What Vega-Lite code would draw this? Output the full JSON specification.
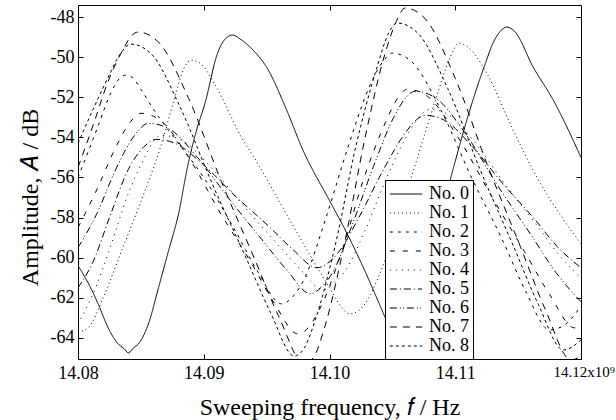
{
"$schema":"https://vega.github.io/schema/vega-lite/v6.json",
"width":503,"height":354,
"autosize":{"type":"none"},
"padding":{"left":78,"top":5,"right":35,"bottom":61},
"background":"white",
"config":{
 "font":"Liberation Serif",
 "view":{"stroke":"black","strokeWidth":1},
 "axis":{"domainColor":"black","tickColor":"black","labelColor":"black","titleColor":"black","labelFont":"Liberation Serif","titleFont":"Liberation Serif","labelFontSize":18,"titleFontSize":24,"titleFontWeight":"normal","grid":false,"tickSize":-5,"labelPadding":8},
 "legend":{"labelFont":"Liberation Serif"}
},
"datasets":{"curves":[
{"s":"No. 0","f":14.0800,"a":-60.4},{"s":"No. 0","f":14.0808,"a":-61.25},{"s":"No. 0","f":14.0816,"a":-62.3},{"s":"No. 0","f":14.0824,"a":-63.5},{"s":"No. 0","f":14.0832,"a":-64.3},{"s":"No. 0","f":14.0837,"a":-64.55},{"s":"No. 0","f":14.0840,"a":-64.75},{"s":"No. 0","f":14.0844,"a":-64.5},{"s":"No. 0","f":14.0848,"a":-64.3},{"s":"No. 0","f":14.0856,"a":-63.3},{"s":"No. 0","f":14.0864,"a":-61.5},{"s":"No. 0","f":14.0872,"a":-59.65},{"s":"No. 0","f":14.0880,"a":-57.8},{"s":"No. 0","f":14.0887,"a":-55.5},{"s":"No. 0","f":14.0894,"a":-53.7},{"s":"No. 0","f":14.0901,"a":-52.3},{"s":"No. 0","f":14.0911,"a":-49.8},{"s":"No. 0","f":14.0917,"a":-49.1},{"s":"No. 0","f":14.0923,"a":-48.9},{"s":"No. 0","f":14.0929,"a":-49.1},{"s":"No. 0","f":14.0940,"a":-49.7},{"s":"No. 0","f":14.0950,"a":-50.5},{"s":"No. 0","f":14.0965,"a":-52.5},{"s":"No. 0","f":14.0979,"a":-54.65},{"s":"No. 0","f":14.1000,"a":-57.15},{"s":"No. 0","f":14.1014,"a":-58.8},{"s":"No. 0","f":14.1027,"a":-60.5},{"s":"No. 0","f":14.1042,"a":-62.65},{"s":"No. 0","f":14.1050,"a":-63.8},{"s":"No. 0","f":14.1058,"a":-64.5},{"s":"No. 0","f":14.1066,"a":-63.5},{"s":"No. 0","f":14.1076,"a":-61.0},{"s":"No. 0","f":14.1087,"a":-58.3},{"s":"No. 0","f":14.1098,"a":-55.65},{"s":"No. 0","f":14.1114,"a":-52.15},{"s":"No. 0","f":14.1124,"a":-50.3},{"s":"No. 0","f":14.1130,"a":-49.3},{"s":"No. 0","f":14.1136,"a":-48.7},{"s":"No. 0","f":14.1141,"a":-48.5},{"s":"No. 0","f":14.1147,"a":-48.7},{"s":"No. 0","f":14.1162,"a":-50.5},{"s":"No. 0","f":14.1178,"a":-52.15},{"s":"No. 0","f":14.1200,"a":-55.0},
{"s":"No. 1","f":14.0800,"a":-63.7},{"s":"No. 1","f":14.0808,"a":-63.5},{"s":"No. 1","f":14.0820,"a":-62.0},{"s":"No. 1","f":14.0835,"a":-59.6},{"s":"No. 1","f":14.0850,"a":-57.2},{"s":"No. 1","f":14.0865,"a":-54.6},{"s":"No. 1","f":14.0877,"a":-52.0},{"s":"No. 1","f":14.0884,"a":-50.6},{"s":"No. 1","f":14.0890,"a":-50.15},{"s":"No. 1","f":14.0897,"a":-50.3},{"s":"No. 1","f":14.0910,"a":-51.5},{"s":"No. 1","f":14.0930,"a":-54.0},{"s":"No. 1","f":14.0942,"a":-55.2},{"s":"No. 1","f":14.0961,"a":-57.3},{"s":"No. 1","f":14.0982,"a":-59.6},{"s":"No. 1","f":14.1000,"a":-61.5},{"s":"No. 1","f":14.1010,"a":-62.5},{"s":"No. 1","f":14.1016,"a":-62.8},{"s":"No. 1","f":14.1024,"a":-62.6},{"s":"No. 1","f":14.1040,"a":-60.8},{"s":"No. 1","f":14.1055,"a":-58.0},{"s":"No. 1","f":14.1070,"a":-55.0},{"s":"No. 1","f":14.1085,"a":-52.0},{"s":"No. 1","f":14.1096,"a":-50.0},{"s":"No. 1","f":14.1103,"a":-49.3},{"s":"No. 1","f":14.1110,"a":-49.5},{"s":"No. 1","f":14.1125,"a":-50.8},{"s":"No. 1","f":14.1145,"a":-53.5},{"s":"No. 1","f":14.1165,"a":-56.0},{"s":"No. 1","f":14.1185,"a":-58.0},{"s":"No. 1","f":14.1200,"a":-59.3},
{"s":"No. 2","f":14.0800,"a":-56.0},{"s":"No. 2","f":14.0815,"a":-53.6},{"s":"No. 2","f":14.0826,"a":-51.8},{"s":"No. 2","f":14.0834,"a":-51.0},{"s":"No. 2","f":14.0838,"a":-50.9},{"s":"No. 2","f":14.0843,"a":-51.0},{"s":"No. 2","f":14.0850,"a":-51.6},{"s":"No. 2","f":14.0860,"a":-52.6},{"s":"No. 2","f":14.0875,"a":-53.9},{"s":"No. 2","f":14.0900,"a":-56.0},{"s":"No. 2","f":14.0925,"a":-58.65},{"s":"No. 2","f":14.0943,"a":-60.7},{"s":"No. 2","f":14.0962,"a":-62.3},{"s":"No. 2","f":14.0970,"a":-62.0},{"s":"No. 2","f":14.0980,"a":-61.05},{"s":"No. 2","f":14.0997,"a":-58.05},{"s":"No. 2","f":14.1015,"a":-54.43},{"s":"No. 2","f":14.1032,"a":-51.43},{"s":"No. 2","f":14.1043,"a":-50.18},{"s":"No. 2","f":14.1050,"a":-49.8},{"s":"No. 2","f":14.1065,"a":-50.21},{"s":"No. 2","f":14.1088,"a":-52.56},{"s":"No. 2","f":14.1113,"a":-56.01},{"s":"No. 2","f":14.1138,"a":-59.18},{"s":"No. 2","f":14.1156,"a":-61.67},{"s":"No. 2","f":14.1175,"a":-63.6},{"s":"No. 2","f":14.1188,"a":-63.3},{"s":"No. 2","f":14.1200,"a":-62.4},
{"s":"No. 3","f":14.0800,"a":-58.5},{"s":"No. 3","f":14.0815,"a":-56.6},{"s":"No. 3","f":14.0830,"a":-54.5},{"s":"No. 3","f":14.0842,"a":-53.2},{"s":"No. 3","f":14.0850,"a":-52.8},{"s":"No. 3","f":14.0865,"a":-53.13},{"s":"No. 3","f":14.0888,"a":-55.0},{"s":"No. 3","f":14.0913,"a":-57.75},{"s":"No. 3","f":14.0938,"a":-60.28},{"s":"No. 3","f":14.0956,"a":-62.26},{"s":"No. 3","f":14.0975,"a":-63.8},{"s":"No. 3","f":14.0983,"a":-63.5},{"s":"No. 3","f":14.0992,"a":-62.58},{"s":"No. 3","f":14.1010,"a":-59.65},{"s":"No. 3","f":14.1027,"a":-56.11},{"s":"No. 3","f":14.1045,"a":-53.19},{"s":"No. 3","f":14.1055,"a":-51.97},{"s":"No. 3","f":14.1062,"a":-51.6},{"s":"No. 3","f":14.1078,"a":-51.96},{"s":"No. 3","f":14.1102,"a":-53.98},{"s":"No. 3","f":14.1129,"a":-56.95},{"s":"No. 3","f":14.1155,"a":-59.69},{"s":"No. 3","f":14.1175,"a":-61.83},{"s":"No. 3","f":14.1195,"a":-63.5},{"s":"No. 3","f":14.1200,"a":-63.4},
{"s":"No. 4","f":14.0800,"a":-63.3},{"s":"No. 4","f":14.0812,"a":-61.8},{"s":"No. 4","f":14.0825,"a":-59.6},{"s":"No. 4","f":14.0840,"a":-56.8},{"s":"No. 4","f":14.0853,"a":-55.0},{"s":"No. 4","f":14.0860,"a":-54.2},{"s":"No. 4","f":14.0866,"a":-53.9},{"s":"No. 4","f":14.0882,"a":-54.13},{"s":"No. 4","f":14.0905,"a":-55.44},{"s":"No. 4","f":14.0931,"a":-57.37},{"s":"No. 4","f":14.0956,"a":-59.14},{"s":"No. 4","f":14.0976,"a":-60.52},{"s":"No. 4","f":14.0995,"a":-61.6},{"s":"No. 4","f":14.1003,"a":-61.3},{"s":"No. 4","f":14.1012,"a":-60.7},{"s":"No. 4","f":14.1029,"a":-58.54},{"s":"No. 4","f":14.1046,"a":-55.93},{"s":"No. 4","f":14.1063,"a":-53.77},{"s":"No. 4","f":14.1073,"a":-52.87},{"s":"No. 4","f":14.1080,"a":-52.6},{"s":"No. 4","f":14.1094,"a":-52.85},{"s":"No. 4","f":14.1116,"a":-54.28},{"s":"No. 4","f":14.1140,"a":-56.38},{"s":"No. 4","f":14.1164,"a":-58.31},{"s":"No. 4","f":14.1182,"a":-59.82},{"s":"No. 4","f":14.1200,"a":-61.0},
{"s":"No. 5","f":14.0800,"a":-61.5},{"s":"No. 5","f":14.0812,"a":-60.2},{"s":"No. 5","f":14.0825,"a":-58.0},{"s":"No. 5","f":14.0840,"a":-55.6},{"s":"No. 5","f":14.0852,"a":-54.5},{"s":"No. 5","f":14.0862,"a":-54.1},{"s":"No. 5","f":14.0877,"a":-54.29},{"s":"No. 5","f":14.0900,"a":-55.38},{"s":"No. 5","f":14.0926,"a":-56.98},{"s":"No. 5","f":14.0952,"a":-58.45},{"s":"No. 5","f":14.0971,"a":-59.6},{"s":"No. 5","f":14.0990,"a":-60.5},{"s":"No. 5","f":14.0998,"a":-60.3},{"s":"No. 5","f":14.1007,"a":-59.74},{"s":"No. 5","f":14.1024,"a":-57.92},{"s":"No. 5","f":14.1042,"a":-55.71},{"s":"No. 5","f":14.1059,"a":-53.89},{"s":"No. 5","f":14.1069,"a":-53.13},{"s":"No. 5","f":14.1076,"a":-52.9},{"s":"No. 5","f":14.1091,"a":-53.13},{"s":"No. 5","f":14.1113,"a":-54.42},{"s":"No. 5","f":14.1138,"a":-56.32},{"s":"No. 5","f":14.1163,"a":-58.07},{"s":"No. 5","f":14.1181,"a":-59.44},{"s":"No. 5","f":14.1200,"a":-60.5},
{"s":"No. 6","f":14.0800,"a":-59.5},{"s":"No. 6","f":14.0815,"a":-57.8},{"s":"No. 6","f":14.0830,"a":-55.6},{"s":"No. 6","f":14.0845,"a":-53.9},{"s":"No. 6","f":14.0856,"a":-53.3},{"s":"No. 6","f":14.0872,"a":-53.56},{"s":"No. 6","f":14.0895,"a":-55.0},{"s":"No. 6","f":14.0921,"a":-57.13},{"s":"No. 6","f":14.0946,"a":-59.08},{"s":"No. 6","f":14.0966,"a":-60.61},{"s":"No. 6","f":14.0985,"a":-61.8},{"s":"No. 6","f":14.0993,"a":-61.5},{"s":"No. 6","f":14.1002,"a":-60.79},{"s":"No. 6","f":14.1018,"a":-58.37},{"s":"No. 6","f":14.1035,"a":-55.44},{"s":"No. 6","f":14.1051,"a":-53.01},{"s":"No. 6","f":14.1061,"a":-52.0},{"s":"No. 6","f":14.1068,"a":-51.7},{"s":"No. 6","f":14.1084,"a":-52.02},{"s":"No. 6","f":14.1108,"a":-53.8},{"s":"No. 6","f":14.1134,"a":-56.43},{"s":"No. 6","f":14.1160,"a":-58.84},{"s":"No. 6","f":14.1180,"a":-60.73},{"s":"No. 6","f":14.1200,"a":-62.2},
{"s":"No. 7","f":14.0800,"a":-55.5},{"s":"No. 7","f":14.0812,"a":-53.4},{"s":"No. 7","f":14.0824,"a":-51.2},{"s":"No. 7","f":14.0836,"a":-49.6},{"s":"No. 7","f":14.0843,"a":-48.9},{"s":"No. 7","f":14.0848,"a":-48.75},{"s":"No. 7","f":14.0864,"a":-49.25},{"s":"No. 7","f":14.0888,"a":-52.06},{"s":"No. 7","f":14.0914,"a":-56.2},{"s":"No. 7","f":14.0940,"a":-60.0},{"s":"No. 7","f":14.0960,"a":-62.98},{"s":"No. 7","f":14.0980,"a":-65.3},{"s":"No. 7","f":14.0988,"a":-64.9},{"s":"No. 7","f":14.0996,"a":-63.5},{"s":"No. 7","f":14.1012,"a":-59.26},{"s":"No. 7","f":14.1028,"a":-54.1},{"s":"No. 7","f":14.1044,"a":-49.86},{"s":"No. 7","f":14.1054,"a":-48.1},{"s":"No. 7","f":14.1060,"a":-47.55},{"s":"No. 7","f":14.1076,"a":-48.08},{"s":"No. 7","f":14.1100,"a":-51.06},{"s":"No. 7","f":14.1126,"a":-55.45},{"s":"No. 7","f":14.1152,"a":-59.48},{"s":"No. 7","f":14.1172,"a":-62.64},{"s":"No. 7","f":14.1192,"a":-65.1},{"s":"No. 7","f":14.1200,"a":-64.9},
{"s":"No. 8","f":14.0800,"a":-54.3},{"s":"No. 8","f":14.0812,"a":-52.6},{"s":"No. 8","f":14.0824,"a":-51.0},{"s":"No. 8","f":14.0834,"a":-49.8},{"s":"No. 8","f":14.0842,"a":-49.35},{"s":"No. 8","f":14.0858,"a":-49.82},{"s":"No. 8","f":14.0881,"a":-52.46},{"s":"No. 8","f":14.0907,"a":-56.35},{"s":"No. 8","f":14.0933,"a":-59.92},{"s":"No. 8","f":14.0953,"a":-62.72},{"s":"No. 8","f":14.0972,"a":-64.9},{"s":"No. 8","f":14.0980,"a":-64.5},{"s":"No. 8","f":14.0988,"a":-63.24},{"s":"No. 8","f":14.1005,"a":-59.26},{"s":"No. 8","f":14.1021,"a":-54.44},{"s":"No. 8","f":14.1038,"a":-50.46},{"s":"No. 8","f":14.1047,"a":-48.8},{"s":"No. 8","f":14.1054,"a":-48.3},{"s":"No. 8","f":14.1070,"a":-48.79},{"s":"No. 8","f":14.1094,"a":-51.56},{"s":"No. 8","f":14.1120,"a":-55.64},{"s":"No. 8","f":14.1146,"a":-59.38},{"s":"No. 8","f":14.1166,"a":-62.32},{"s":"No. 8","f":14.1186,"a":-64.6},{"s":"No. 8","f":14.1200,"a":-64.1}
]},
"layer":[
 {
  "data":{"name":"curves"},
  "mark":{"type":"line","color":"black","strokeWidth":1,"interpolate":"monotone","clip":true},
  "encoding":{
   "x":{"field":"f","type":"quantitative","scale":{"domain":[14.08,14.12],"nice":false,"zero":false},
    "axis":{"orient":"bottom","values":[14.08,14.09,14.10,14.11,14.12],"labelFlush":false,"labelPadding":10,
     "labelExpr":"datum.value > 14.115 ? '14.12x10⁹' : format(datum.value, '.2f')",
     "labelAlign":{"condition":{"test":"datum.value > 14.115","value":"left"},"value":"center"},
     "labelOffset":{"condition":{"test":"datum.value > 14.115","value":-28},"value":0},
     "labelFontSize":{"condition":{"test":"datum.value > 14.115","value":15},"value":18},
     "title":"Sweeping frequency, 𝑓 / Hz","titleBaseline":"alphabetic","titleY":55}},
   "y":{"field":"a","type":"quantitative","scale":{"domain":[-65.05,-47.4],"nice":false,"zero":false},
    "axis":{"orient":"left","values":[-64,-62,-60,-58,-56,-54,-52,-50,-48],"labelExpr":"'' + datum.value","labelPadding":9,
     "title":"Amplitude, 𝐴 / dB","titleX":-36,"titleY":192}},
   "strokeDash":{"field":"s","type":"nominal",
    "scale":{"domain":["No. 0","No. 1","No. 2","No. 3","No. 4","No. 5","No. 6","No. 7","No. 8"],
     "range":[[1,0],[1,3],[3,5],[5,8],[1,5],[7,3,1,3],[7,3,1,2,1,3],[7,6],[3,3]]},
    "legend":{"title":null,"orient":"none","legendX":307,"legendY":175,"fillColor":"white","strokeColor":"black","padding":4,
     "labelFontSize":18,"labelColor":"black","symbolType":"M-1.7,0H1.7","symbolSize":361,"symbolOffset":7,
     "symbolStrokeWidth":1,"symbolStrokeColor":"black","rowPadding":0,"labelOffset":13}}
  }
 },
 {
  "data":{"values":[{"k":1}]},
  "mark":{"type":"point","opacity":0},
  "encoding":{
   "x":{"datum":14.1,"type":"quantitative","scale":{"domain":[14.08,14.12],"nice":false,"zero":false},
    "axis":{"orient":"top","labels":false,"title":null,"domain":false,"values":[14.09,14.10,14.11]}},
   "y":{"datum":-56,"type":"quantitative","scale":{"domain":[-65.05,-47.4],"nice":false,"zero":false},
    "axis":{"orient":"right","labels":false,"title":null,"domain":false,"values":[-64,-62,-60,-58,-56,-54,-52,-50,-48]}}
  }
 }
],
"resolve":{"axis":{"x":"independent","y":"independent"}}
}
